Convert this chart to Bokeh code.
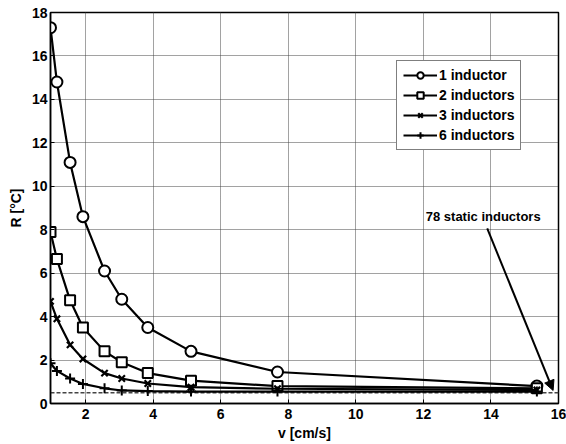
from bokeh.plotting import figure
from bokeh.models import Range1d, FixedTicker, Legend, LegendItem, Arrow, NormalHead, Label
from bokeh.embed import file_html
from bokeh.resources import INLINE

# Data
v = [0.96, 1.15, 1.54, 1.92, 2.56, 3.07, 3.84, 5.12, 7.68, 15.36]
r_1 = [17.3, 14.8, 11.1, 8.6, 6.1, 4.8, 3.5, 2.4, 1.45, 0.8]
r_2 = [7.9, 6.65, 4.75, 3.5, 2.4, 1.9, 1.4, 1.05, 0.8, 0.7]
r_3 = [4.7, 3.9, 2.7, 2.05, 1.4, 1.15, 0.92, 0.75, 0.68, 0.62]
r_6 = [1.85, 1.5, 1.15, 0.9, 0.7, 0.6, 0.57, 0.55, 0.55, 0.55]
static_v = [0.96, 16]
static_r = [0.5, 0.5]
series_names = ["1 inductor", "2 inductors", "3 inductors", "6 inductors"]
x_ticks = [2, 4, 6, 8, 10, 12, 14, 16]
y_ticks = [0, 2, 4, 6, 8, 10, 12, 14, 16, 18]
annotation_text = "78 static inductors"

FONT = "Liberation Sans"

p = figure(width=566, height=444, output_backend="svg", toolbar_location=None,
           x_range=Range1d(0.96, 16), y_range=Range1d(0, 18),
           min_border_left=50, min_border_right=8, min_border_top=12, min_border_bottom=41)
p.background_fill_color = "white"
p.border_fill_color = "white"
p.outline_line_color = "black"
p.outline_line_width = 1.5

for ax in (p.xaxis, p.yaxis):
    ax.major_tick_in = 4
    ax.major_tick_out = 0
    ax.minor_tick_in = 0
    ax.minor_tick_out = 0
    ax.axis_line_color = "black"
    ax.axis_line_width = 1.5
    ax.major_tick_line_color = "black"
    ax.major_label_text_font = FONT
    ax.major_label_text_font_size = "14px"
    ax.major_label_text_font_style = "bold"
    ax.major_label_text_color = "black"
    ax.axis_label_text_font = FONT
    ax.axis_label_text_font_size = "14px"
    ax.axis_label_text_font_style = "bold"
    ax.axis_label_text_color = "black"

p.xaxis.ticker = FixedTicker(ticks=x_ticks)
p.yaxis.ticker = FixedTicker(ticks=y_ticks)
p.xaxis.axis_label = "v [cm/s]"
p.yaxis.axis_label = "R [°C]"
p.xaxis.major_label_standoff = 5
p.yaxis.major_label_standoff = 3
p.xaxis.axis_label_standoff = 3
p.yaxis.axis_label_standoff = 5

for g in (p.xgrid, p.ygrid):
    g.grid_line_color = "#444444"
    g.grid_line_dash = "1 1"
    g.grid_line_width = 1

# static inductors reference line
p.line(static_v, static_r, line_color="#444444", line_width=1.5, line_dash="4 2")

lw = 2.2
l1 = p.line(v, r_1, line_color="black", line_width=lw)
m1 = p.scatter(v, r_1, marker="circle", size=11, fill_color="white", line_color="black", line_width=2)
l2 = p.line(v, r_2, line_color="black", line_width=lw)
m2 = p.scatter(v, r_2, marker="square", size=10, fill_color="white", line_color="black", line_width=2)
l3 = p.line(v, r_3, line_color="black", line_width=lw)
m3 = p.scatter(v, r_3, marker="x", size=9, line_color="black", line_width=2.2)
l6 = p.line(v, r_6, line_color="black", line_width=lw)
m6 = p.scatter(v, r_6, marker="cross", size=10, line_color="black", line_width=2)

legend = Legend(items=[
    LegendItem(label=series_names[0], renderers=[l1, m1]),
    LegendItem(label=series_names[1], renderers=[l2, m2]),
    LegendItem(label=series_names[2], renderers=[l3, m3]),
    LegendItem(label=series_names[3], renderers=[l6, m6]),
], location=(346, 253))
legend.border_line_color = "black"
legend.border_line_width = 1.5
legend.background_fill_color = "white"
legend.background_fill_alpha = 1
legend.label_text_font = FONT
legend.label_text_font_size = "14px"
legend.label_text_font_style = "bold"
legend.label_text_color = "black"
legend.padding = 6
legend.spacing = 4
legend.margin = 0
legend.glyph_width = 34
legend.glyph_height = 16
legend.label_height = 16
legend.label_standoff = 2
p.add_layout(legend, "center")

p.add_layout(Label(x=13.77, y=8.6, text=annotation_text, text_align="center", text_baseline="middle",
                   text_font=FONT, text_font_size="13px", text_font_style="bold", text_color="black"))
p.add_layout(Arrow(x_start=13.89, y_start=8.06, x_end=15.84, y_end=0.6,
                   line_color="black", line_width=2,
                   end=NormalHead(size=10, fill_color="black", line_color="black")))

open("out.html", "w").write(file_html(p, INLINE))
